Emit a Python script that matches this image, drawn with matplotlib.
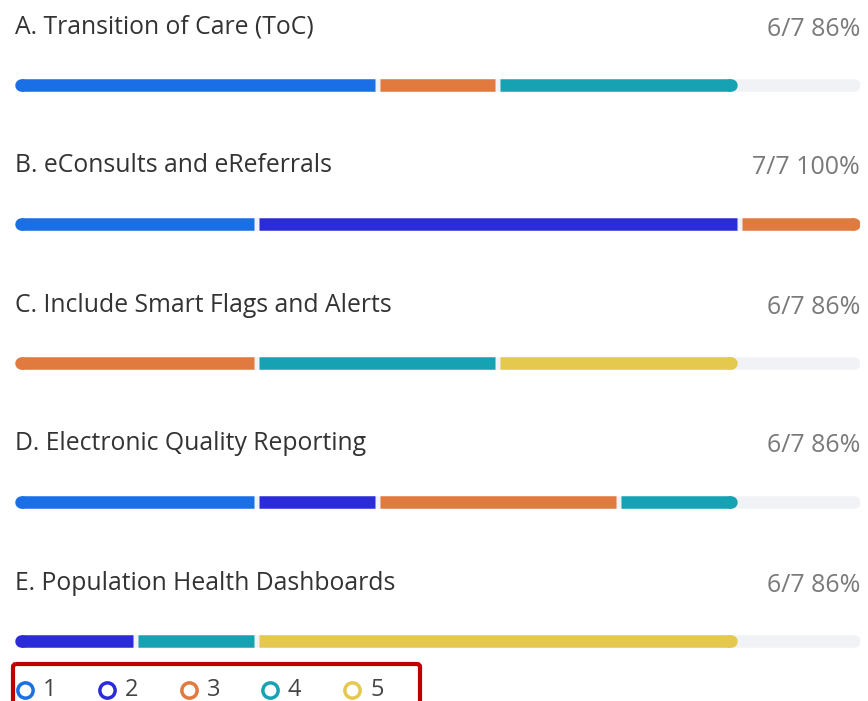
import matplotlib.pyplot as plt
from matplotlib.patches import FancyBboxPatch

# ranking question results (7 respondents)
questions = ["A. Transition of Care (ToC)",
             "B. eConsults and eReferrals",
             "C. Include Smart Flags and Alerts",
             "D. Electronic Quality Reporting",
             "E. Population Health Dashboards"]
ranks = ["1", "2", "3", "4", "5"]
rank1 = [3, 2, 0, 2, 0]
rank2 = [0, 4, 0, 1, 1]
rank3 = [1, 1, 2, 2, 0]
rank4 = [2, 0, 2, 1, 1]
rank5 = [0, 0, 2, 0, 4]
total = 7

colors = ["#1a6fe6", "#2b2bd9", "#e07a3f", "#17a2b4", "#e5c84e"]
track = "#f1f2f5"

plt.rcParams['font.family'] = ['Open Sans', 'DejaVu Sans']

W, H = 868, 701
fig = plt.figure(figsize=(W / 100, H / 100), dpi=100)
bg = fig.add_axes([0, 0, 1, 1])
bg.set_xlim(0, W)
bg.set_ylim(H, 0)
bg.axis("off")

series = [rank1, rank2, rank3, rank4, rank5]
title_y = 27
bar_y = 85
pitch = 139
bar_left, bar_right = 15, 860
lw = 12.5 * 72 / 100  # 12.5 px in points
gap = 5 / ((bar_right - bar_left) / total)
r = 6.25 / ((bar_right - bar_left) / total)

for i, q in enumerate(questions):
    ty = title_y + i * pitch
    by = bar_y + i * pitch
    bg.text(bar_left, ty, q, fontsize=17.8, color="#333333", va="center", ha="left")
    n = sum(s[i] for s in series)
    bg.text(bar_right, ty + 2, f"{n}/{total} {round(100 * n / total)}%",
            fontsize=18, color="#7a7a7a", va="center", ha="right")

    ax = fig.add_axes([bar_left / W, 1 - (by + 10) / H, (bar_right - bar_left) / W, 20 / H])
    ax.set_xlim(0, total)
    ax.set_ylim(-1, 1)
    ax.axis("off")
    # gray track with round ends
    ax.plot([r, total - r], [0, 0], color=track, lw=lw, solid_capstyle="round")

    segs = [(k, s[i]) for k, s in enumerate(series) if s[i] > 0]
    start = 0
    for j, (k, v) in enumerate(segs):
        a = start + (gap / 2 if j > 0 else 0)
        b = start + v - (gap / 2 if start + v < total else 0)
        if j == 0:
            ax.plot([a + r, a + r + 0.01], [0, 0], color=colors[k], lw=lw, solid_capstyle="round")
            a = a + r
        if j == len(segs) - 1:
            ax.plot([b - r - 0.01, b - r], [0, 0], color=colors[k], lw=lw, solid_capstyle="round")
            b = b - r
        ax.plot([a, b], [0, 0], color=colors[k], lw=lw, solid_capstyle="butt")
        start += v

# legend
leg_x = [25, 107, 189, 270, 352]
for k, lab in enumerate(ranks):
    bg.plot(leg_x[k], 690, marker="o", ms=11, mfc="white", mec=colors[k], mew=2.5)
    bg.text(leg_x[k] + 18, 690, lab, fontsize=17, color="#444444", va="center", ha="left")

box = FancyBboxPatch((13, 664), 407, 60, boxstyle="round,pad=0,rounding_size=3",
                     fill=False, ec="#c00000", lw=3)
bg.add_patch(box)

fig.savefig("out.png", dpi=100, facecolor="white")
